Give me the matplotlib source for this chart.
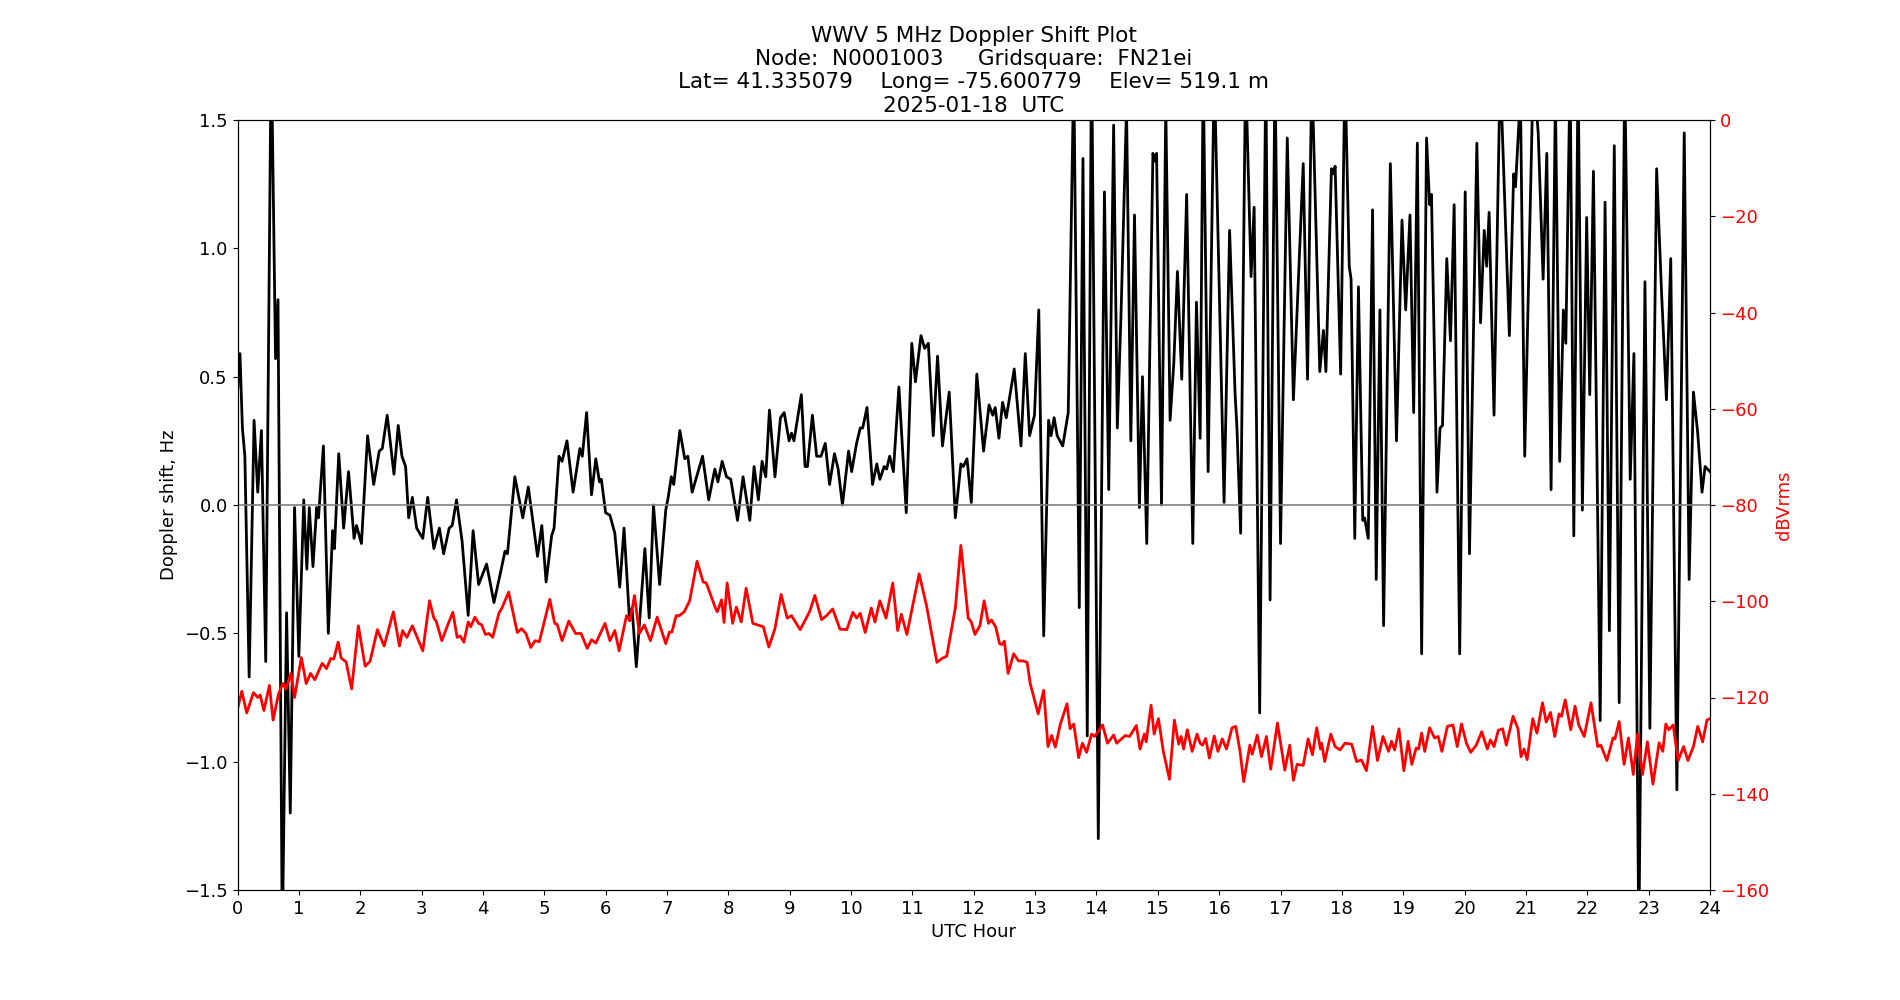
import matplotlib
matplotlib.use('Agg')
import matplotlib.pyplot as plt

# Doppler shift (Hz) at peaks/troughs
dop_hours = [
    0.00, 0.04, 0.08, 0.12, 0.19, 0.27, 0.33, 0.39, 0.46, 0.55, 0.62, 0.66, 0.73, 0.80, 0.86,
    0.93, 1.00, 1.08, 1.13, 1.17, 1.23, 1.29, 1.32, 1.40, 1.48, 1.55, 1.58, 1.65, 1.73, 1.81,
    1.90, 1.94, 2.02, 2.12, 2.22, 2.31, 2.36, 2.44, 2.55, 2.62, 2.68, 2.74, 2.79, 2.85, 2.92,
    3.02, 3.10, 3.20, 3.29, 3.36, 3.45, 3.50, 3.57, 3.66, 3.76, 3.84, 3.93, 4.06, 4.18, 4.29,
    4.36, 4.40, 4.52, 4.65, 4.74, 4.89, 4.96, 5.03, 5.12, 5.16, 5.24, 5.29, 5.37, 5.47, 5.58,
    5.62, 5.69, 5.77, 5.84, 5.90, 5.93, 6.00, 6.07, 6.15, 6.23, 6.30, 6.39, 6.43, 6.50, 6.64,
    6.71, 6.78, 6.88, 6.98, 7.02, 7.07, 7.11, 7.21, 7.29, 7.34, 7.41, 7.58, 7.68, 7.78, 7.83,
    7.90, 7.97, 8.04, 8.15, 8.24, 8.35, 8.42, 8.49, 8.55, 8.61, 8.67, 8.76, 8.85, 8.91, 8.99,
    9.03, 9.07, 9.19, 9.25, 9.29, 9.37, 9.44, 9.51, 9.58, 9.65, 9.73, 9.79, 9.86, 9.96, 10.01,
    10.09, 10.15, 10.19, 10.26, 10.35, 10.42, 10.47, 10.54, 10.58, 10.63, 10.69, 10.78, 10.90,
    10.99, 11.05, 11.14, 11.20, 11.26, 11.34, 11.41, 11.49, 11.60, 11.70, 11.79, 11.83, 11.89,
    11.96, 12.05, 12.16, 12.25, 12.31, 12.35, 12.41, 12.47, 12.53, 12.66, 12.77, 12.84, 12.91,
    12.99, 13.06, 13.14, 13.22, 13.26, 13.31, 13.36, 13.45, 13.54, 13.63, 13.72, 13.78, 13.85,
    13.92, 14.03, 14.13, 14.20, 14.28, 14.34, 14.40, 14.49, 14.56, 14.62, 14.70, 14.75, 14.82,
    14.92, 14.95, 14.98, 15.06, 15.13, 15.20, 15.26, 15.32, 15.39, 15.47, 15.57, 15.63, 15.69,
    15.74, 15.82, 15.92, 16.08, 16.17, 16.26, 16.29, 16.35, 16.43, 16.52, 16.57, 16.66, 16.76,
    16.83, 16.91, 17.00, 17.11, 17.21, 17.37, 17.44, 17.51, 17.64, 17.70, 17.74, 17.83, 17.86,
    17.89, 17.98, 18.05, 18.12, 18.15, 18.21, 18.27, 18.34, 18.37, 18.43, 18.50, 18.56, 18.62,
    18.68, 18.79, 18.89, 18.98, 19.04, 19.11, 19.17, 19.23, 19.30, 19.38, 19.43, 19.46, 19.55,
    19.60, 19.64, 19.71, 19.77, 19.83, 19.92, 20.01, 20.08, 20.20, 20.26, 20.32, 20.36, 20.40,
    20.48, 20.58, 20.73, 20.80, 20.83, 20.91, 20.98, 21.12, 21.20, 21.28, 21.34, 21.41, 21.48,
    21.55, 21.61, 21.65, 21.72, 21.78, 21.85, 21.92, 21.99, 22.04, 22.10, 22.21, 22.29, 22.36,
    22.44, 22.52, 22.61, 22.70, 22.76, 22.84, 22.94, 23.02, 23.13, 23.21, 23.29, 23.36, 23.46,
    23.58, 23.66, 23.73, 23.80, 23.87, 23.92, 24.00,
]
dop_hz = [
    0.44, 0.59, 0.30, 0.19, -0.67, 0.33, 0.05, 0.29, -0.61, 1.80, 0.57, 0.80, -1.70, -0.42, -1.20,
    -0.01, -0.59, 0.02, -0.25, -0.01, -0.24, -0.01, -0.05, 0.23, -0.50, -0.10, -0.17, 0.20, -0.09, 0.13,
    -0.13, -0.08, -0.15, 0.27, 0.08, 0.21, 0.22, 0.35, 0.12, 0.31, 0.19, 0.15, -0.05, 0.03, -0.09,
    -0.13, 0.03, -0.17, -0.09, -0.19, -0.09, -0.08, 0.02, -0.14, -0.43, -0.10, -0.31, -0.23, -0.38, -0.26,
    -0.18, -0.19, 0.11, -0.05, 0.07, -0.20, -0.08, -0.30, -0.12, -0.09, 0.19, 0.17, 0.25, 0.05, 0.22,
    0.19, 0.36, 0.04, 0.18, 0.09, 0.10, -0.03, -0.04, -0.11, -0.32, -0.09, -0.45, -0.40, -0.63, -0.17,
    -0.44, 0.00, -0.31, -0.02, 0.03, 0.11, 0.08, 0.29, 0.18, 0.19, 0.05, 0.19, 0.02, 0.14, 0.09,
    0.17, 0.11, 0.10, -0.06, 0.11, -0.06, 0.15, 0.02, 0.17, 0.11, 0.37, 0.11, 0.34, 0.36, 0.25,
    0.28, 0.25, 0.43, 0.15, 0.15, 0.35, 0.19, 0.19, 0.24, 0.08, 0.20, 0.14, 0.00, 0.21, 0.13,
    0.24, 0.30, 0.30, 0.38, 0.08, 0.16, 0.10, 0.15, 0.14, 0.19, 0.13, 0.46, -0.03,
    0.63, 0.48, 0.66, 0.61, 0.63, 0.27, 0.58, 0.23, 0.44, -0.05, 0.16, 0.15, 0.18,
    0.01, 0.51, 0.21, 0.39, 0.35, 0.38, 0.26, 0.40, 0.34, 0.53, 0.23, 0.59, 0.27,
    0.35, 0.76, -0.51, 0.33, 0.27, 0.34, 0.27, 0.23, 0.36, 1.70, -0.40, 1.35, -0.90,
    1.80, -1.30, 1.22, 0.06, 1.48, 0.30, 0.74, 1.55, 0.25, 1.13, -0.01, 0.50, -0.15,
    1.37, 1.34, 1.37, 0.00, 1.55, 0.33, 0.55, 0.91, 0.49, 1.21, -0.15, 0.79, 0.26,
    1.70, 0.13, 1.70, 0.01, 1.07, 0.43, 0.30, -0.11, 1.70, 0.89, 1.16, -0.81, 1.70,
    -0.37, 1.70, -0.15, 1.43, 0.41, 1.33, 0.49, 1.70, 0.52, 0.68, 0.52, 1.31, 1.29,
    1.32, 0.51, 1.70, 0.93, 0.88, -0.13, 0.85, -0.06, -0.05, -0.13, 1.15, -0.29, 0.76,
    -0.47, 1.33, 0.25, 1.11, 0.76, 1.13, 0.36, 1.41, -0.58, 1.43, 1.17, 1.21, 0.05,
    0.30, 0.31, 0.96, 0.64, 1.17, -0.58, 1.22, -0.19, 1.41, 0.71, 1.07, 0.93, 1.14,
    0.35, 1.70, 0.66, 1.29, 1.24, 1.60, 0.19, 1.70, 1.45, 0.88, 1.37, 0.06, 1.60,
    0.17, 0.76, 0.63, 1.70, -0.12, 1.70, -0.02, 1.12, 0.43, 1.30, -0.84, 1.18, -0.49,
    1.40, -0.77, 1.70, 0.10, 0.59, -1.70, 0.87, -0.87, 1.31, 0.83, 0.41, 0.96, -1.11,
    1.45, -0.29, 0.44, 0.28, 0.05, 0.15, 0.13,
]

# received power (dBVrms)
pwr_hours = [
    0.00, 0.07, 0.15, 0.26, 0.33, 0.37, 0.43, 0.52, 0.58, 0.67, 0.74, 0.79, 0.87, 0.93, 1.04,
    1.12, 1.19, 1.26, 1.38, 1.45, 1.52, 1.57, 1.64, 1.69, 1.77, 1.86, 1.97, 2.08, 2.16, 2.28,
    2.39, 2.54, 2.64, 2.69, 2.76, 2.85, 3.02, 3.13, 3.20, 3.24, 3.33, 3.43, 3.51, 3.58, 3.63,
    3.69, 3.76, 3.80, 3.87, 3.93, 3.98, 4.04, 4.10, 4.16, 4.26, 4.31, 4.42, 4.56, 4.63, 4.70,
    4.78, 4.85, 4.92, 5.09, 5.17, 5.21, 5.29, 5.40, 5.51, 5.60, 5.70, 5.77, 5.84, 5.99, 6.07,
    6.15, 6.22, 6.34, 6.40, 6.47, 6.55, 6.63, 6.73, 6.84, 6.98, 7.04, 7.08, 7.15, 7.20, 7.28,
    7.37, 7.49, 7.59, 7.64, 7.79, 7.82, 7.89, 7.93, 7.98, 8.07, 8.13, 8.21, 8.29, 8.40, 8.57,
    8.66, 8.76, 8.86, 8.96, 9.03, 9.17, 9.25, 9.33, 9.41, 9.52, 9.60, 9.70, 9.82, 9.93, 10.03,
    10.09, 10.15, 10.23, 10.33, 10.39, 10.47, 10.57, 10.68, 10.76, 10.82, 10.91, 11.11, 11.23,
    11.40, 11.48, 11.56, 11.70, 11.79, 11.91, 11.96, 12.02, 12.10, 12.17, 12.24, 12.29, 12.36,
    12.42, 12.46, 12.50, 12.56, 12.65, 12.73, 12.81, 12.87, 12.92, 13.05, 13.14, 13.21, 13.27,
    13.33, 13.41, 13.52, 13.57, 13.63, 13.71, 13.77, 13.84, 13.92, 13.97, 14.10, 14.18, 14.28,
    14.33, 14.47, 14.54, 14.65, 14.71, 14.78, 14.81, 14.89, 14.94, 15.01, 15.09, 15.19, 15.27,
    15.34, 15.38, 15.42, 15.48, 15.56, 15.64, 15.69, 15.73, 15.78, 15.84, 15.92, 15.98, 16.05,
    16.12, 16.21, 16.27, 16.34, 16.40, 16.50, 16.54, 16.62, 16.69, 16.77, 16.84, 16.95, 17.07,
    17.15, 17.21, 17.27, 17.37, 17.45, 17.52, 17.59, 17.65, 17.67, 17.72, 17.82, 17.89, 17.97,
    18.05, 18.16, 18.24, 18.32, 18.40, 18.50, 18.58, 18.67, 18.76, 18.81, 18.86, 18.93, 19.01,
    19.08, 19.14, 19.21, 19.25, 19.30, 19.35, 19.43, 19.51, 19.57, 19.63, 19.72, 19.81, 19.88,
    19.95, 20.03, 20.10, 20.19, 20.28, 20.37, 20.42, 20.48, 20.55, 20.62, 20.68, 20.79, 20.87,
    20.92, 20.97, 21.02, 21.11, 21.18, 21.27, 21.33, 21.40, 21.47, 21.54, 21.58, 21.64, 21.73,
    21.80, 21.86, 21.95, 22.06, 22.17, 22.22, 22.32, 22.42, 22.45, 22.52, 22.60, 22.67, 22.75,
    22.82, 22.90, 22.98, 23.07, 23.17, 23.23, 23.28, 23.33, 23.40, 23.48, 23.57, 23.64, 23.73,
    23.80, 23.88, 23.95, 24.00,
]
pwr_db = [
    -122.4, -118.7, -123.2, -119.0, -120.0, -119.5, -122.7, -117.5, -124.7, -119.2, -117.1, -118.2, -115.0, -120.0, -111.7,
    -117.1, -115.0, -116.3, -112.9, -114.0, -111.9, -112.0, -108.5, -111.8, -112.6, -118.2, -105.1, -113.5, -112.5, -105.9,
    -109.3, -102.2, -109.3, -106.1, -107.5, -105.1, -110.3, -99.9, -103.5, -104.2, -108.2, -104.8, -102.3, -107.5, -107.2,
    -108.5, -104.3, -105.3, -103.3, -104.6, -104.9, -106.9, -106.7, -107.5, -102.5, -101.4, -98.1, -106.5, -105.7, -106.7,
    -109.6, -108.2, -108.4, -99.6, -104.6, -104.8, -108.2, -104.1, -106.7, -106.7, -109.8, -108.0, -108.7, -104.6, -108.2,
    -106.1, -110.3, -103.0, -104.0, -98.8, -106.7, -104.9, -108.2, -103.3, -108.8, -106.4, -106.4, -103.0, -103.0, -102.2,
    -99.9, -91.7, -96.0, -96.2, -101.4, -102.2, -99.7, -104.4, -96.2, -104.6, -101.2, -104.3, -97.3, -104.6, -105.3,
    -109.5, -105.7, -98.6, -103.5, -103.0, -105.9, -104.0, -102.0, -98.8, -103.8, -103.0, -101.6, -105.8, -105.9, -102.3,
    -103.5, -102.5, -106.5, -101.4, -104.3, -99.9, -103.5, -96.2, -106.1, -102.7, -106.9, -94.3, -100.9,
    -112.7, -111.9, -111.4, -101.4, -88.4, -103.5, -104.3, -106.9, -105.1, -99.9, -104.6, -103.9, -105.4,
    -108.8, -109.0, -108.3, -115.0, -110.9, -112.4, -112.4, -112.7, -117.1, -123.4, -118.5, -130.2, -127.9,
    -130.3, -125.6, -121.3, -126.5, -125.5, -132.5, -129.5, -131.4, -127.6, -128.1, -125.7, -129.5, -127.8,
    -129.5, -127.9, -128.1, -125.8, -130.7, -127.6, -129.2, -121.6, -127.6, -124.4, -131.2, -137.0, -124.7,
    -129.7, -128.1, -130.7, -126.7, -131.2, -127.6, -129.5, -129.9, -128.5, -132.6, -128.0, -131.2, -128.6,
    -130.7, -126.3, -126.0, -131.2, -137.5, -129.9, -131.8, -127.8, -132.3, -128.1, -134.9, -125.3, -135.1,
    -129.9, -137.2, -133.9, -134.1, -128.6, -131.9, -126.3, -130.7, -129.5, -133.3, -127.6, -130.2, -130.9,
    -129.5, -129.7, -133.3, -133.0, -135.2, -126.0, -133.1, -128.1, -131.2, -129.1, -130.9, -126.5, -135.2,
    -129.1, -133.9, -130.5, -130.7, -127.4, -131.2, -126.3, -128.4, -128.1, -131.2, -126.0, -125.7, -130.2,
    -125.5, -129.5, -131.4, -129.9, -127.1, -130.7, -128.8, -130.2, -126.8, -126.5, -129.9, -123.9, -126.5,
    -132.3, -130.7, -132.9, -124.4, -127.4, -121.1, -125.1, -123.1, -128.1, -123.4, -123.9, -120.5, -126.7,
    -121.8, -125.7, -128.1, -121.1, -130.2, -129.9, -133.1, -128.4, -128.6, -125.0, -133.9, -128.4, -136.0,
    -127.6, -136.0, -129.2, -138.0, -129.4, -131.2, -125.5, -126.7, -125.7, -133.1, -130.2, -133.1, -130.2,
    -126.0, -129.2, -124.7, -124.4,
]

fig = plt.figure(figsize=(19, 10), dpi=100)
ax = fig.add_subplot(111)
fig.subplots_adjust(left=0.125, right=0.9, top=0.88, bottom=0.11)

ax.plot(dop_hours, dop_hz, color='black', linewidth=2)
ax.axhline(0, color='gray', linewidth=1.2)
ax.set_xlim(0, 24)
ax.set_ylim(-1.5, 1.5)
ax.set_xticks(range(0, 25))
ax.set_yticks([-1.5, -1.0, -0.5, 0.0, 0.5, 1.0, 1.5])
ax.tick_params(labelsize=13)
ax.set_xlabel('UTC Hour', fontsize=13)
ax.set_ylabel('Doppler shift, Hz', fontsize=13)
ax.set_title('WWV 5 MHz Doppler Shift Plot\n'
             'Node:  N0001003     Gridsquare:  FN21ei\n'
             'Lat= 41.335079    Long= -75.600779    Elev= 519.1 m\n'
             '2025-01-18  UTC', fontsize=15.5, linespacing=1.2)

ax2 = ax.twinx()
ax2.plot(pwr_hours, pwr_db, color='red', linewidth=2)
ax2.set_ylim(-160, 0)
ax2.set_yticks(range(-160, 1, 20))
ax2.tick_params(axis='y', labelsize=13, labelcolor='red')
ax2.set_ylabel('dBVrms', fontsize=13, color='red')

fig.savefig('out.png', dpi=100)
